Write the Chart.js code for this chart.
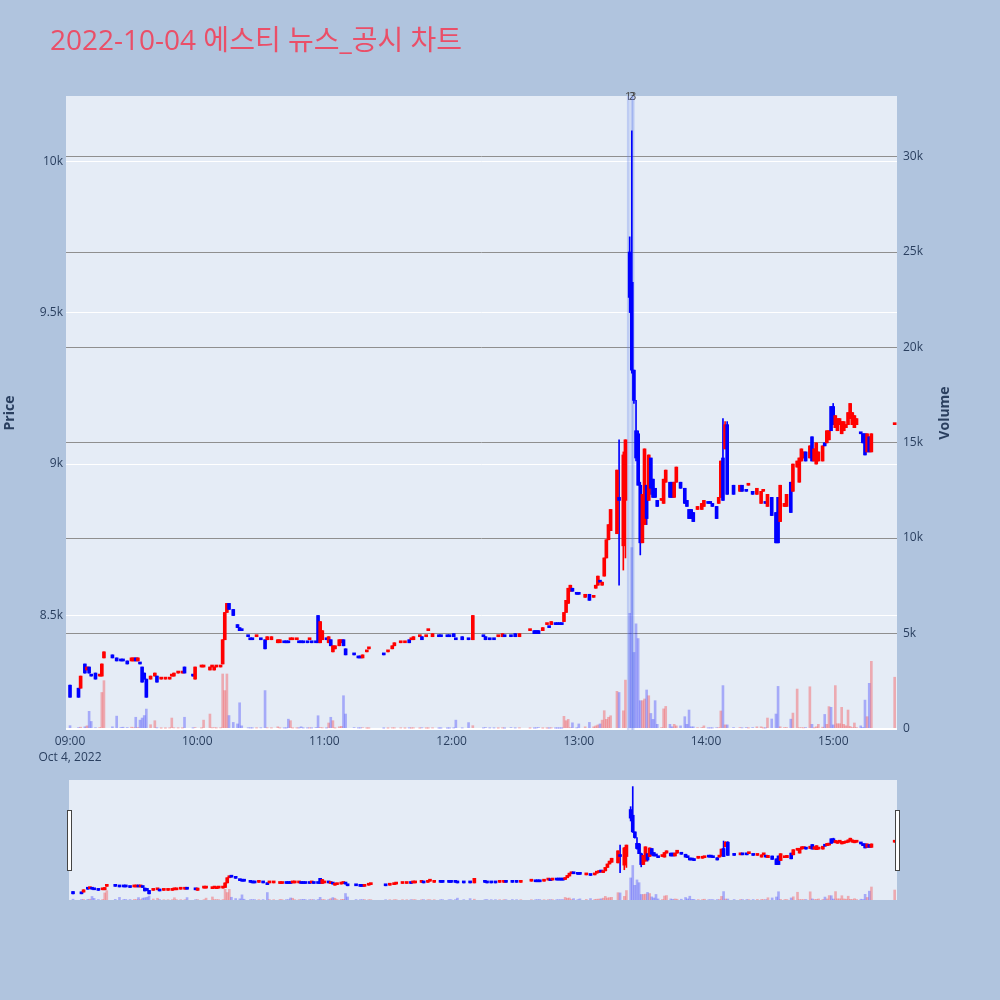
<!DOCTYPE html>
<html><head><meta charset="utf-8">
<script src="https://cdn.jsdelivr.net/npm/chart.js@4.4.0/dist/chart.umd.min.js"></script>
<style>
html,body{margin:0;padding:0;background:#B0C4DE;}
#wrap{position:relative;width:1000px;height:1000px;overflow:hidden;}
#main{position:absolute;left:0;top:0;width:1000px;height:1000px;}
#slider{position:absolute;left:0;top:770px;width:1000px;height:140px;}
</style></head><body>
<div id="wrap"><canvas id="main" width="1000" height="1000"></canvas><canvas id="slider" width="1000" height="140"></canvas></div>
<script>
// ---------- DATA ----------
const chartTitle = '2022-10-04 에스티 뉴스_공시 차트';
const dateLabel = 'Oct 4, 2022';
const xTickLabels = ['09:00','10:00','11:00','12:00','13:00','14:00','15:00'];
const priceTicks = [8500, 9000, 9500, 10000];
const volumeTicks = [0, 5000, 10000, 15000, 20000, 25000, 30000];
const newsTimes = ['13:23:20', '13:25:00', '13:25:40'];
const newsLabels = ['1', '2', '3'];

const times = [
'09:00','09:04','09:05','09:07','09:08','09:09','09:10','09:12','09:14','09:15','09:16','09:20','09:22','09:24','09:25','09:27','09:29','09:30','09:31','09:32','09:33','09:34','09:35','09:36','09:38','09:40','09:41','09:43','09:45','09:47','09:48','09:49','09:51','09:53','09:54','09:58','09:59',
'10:02','10:03','10:06','10:07','10:08','10:09','10:11','10:12','10:13','10:14','10:15','10:17','10:19','10:20','10:21','10:24','10:25','10:26','10:28','10:30','10:32','10:33','10:35','10:38','10:39','10:41','10:42','10:43','10:44','10:45','10:47','10:48','10:49','10:50','10:52','10:53','10:54','10:56','10:57','10:58','10:59',
'11:01','11:02','11:03','11:04','11:05','11:07','11:08','11:09','11:10','11:14','11:16','11:17','11:18','11:20','11:21','11:28','11:30','11:32','11:33','11:36','11:38','11:40','11:41','11:42','11:45','11:46','11:48','11:49','11:51','11:54','11:55','11:58','11:59',
'12:01','12:02','12:05','12:08','12:10','12:15','12:16','12:18','12:20','12:22','12:24','12:25','12:28','12:30','12:32','12:37','12:39','12:40','12:41','12:43','12:45','12:46','12:47','12:49','12:50','12:51','12:52','12:53','12:54','12:55','12:56','12:57','12:59',
'13:00','13:03','13:05','13:07','13:08','13:09','13:10','13:11','13:12','13:13','13:14','13:15','13:18','13:19','13:21','13:22','13:24','13:25','13:26','13:27','13:28','13:29','13:30','13:31','13:32','13:33','13:34','13:35','13:36','13:37','13:39','13:40','13:41','13:43','13:44','13:45','13:46','13:48','13:50','13:51','13:52','13:53','13:54','13:56','13:58','13:59',
'14:01','14:02','14:03','14:05','14:06','14:07','14:08','14:09','14:10','14:13','14:16','14:17','14:19','14:20','14:22','14:24','14:26','14:27','14:28','14:29','14:31','14:33','14:34','14:35','14:37','14:38','14:40','14:41','14:43','14:44','14:45','14:46','14:47','14:49','14:50','14:51','14:52','14:53','14:55','14:56','14:57','14:58','14:59',
'15:00','15:01','15:02','15:03','15:04','15:05','15:06','15:07','15:08','15:09','15:10','15:11','15:13','15:14','15:15','15:16','15:17','15:18','15:29'
];
const opens = [
8270,8260,8260,8340,8320,8330,8300,8310,8300,8300,8360,8370,8360,8350,8350,8350,8350,8350,8360,8350,8340,8330,8310,8290,8290,8300,8300,8290,8290,8290,8300,8300,8310,8310,8330,8300,8290,
8330,8330,8320,8330,8320,8330,8330,8340,8420,8510,8540,8520,8470,8460,8450,8430,8420,8420,8430,8420,8420,8420,8420,8410,8410,8410,8410,8410,8420,8420,8420,8410,8410,8410,8410,8420,8410,8410,8500,8410,8420,
8420,8410,8420,8380,8390,8400,8410,8420,8390,8370,8360,8360,8360,8380,8390,8370,8380,8390,8400,8410,8410,8420,8420,8420,8430,8430,8430,8450,8430,8430,8430,8430,8430,
8440,8420,8430,8420,8420,8430,8430,8420,8420,8430,8430,8430,8430,8440,8430,8450,8450,8450,8450,8450,8470,8460,8470,8470,8470,8470,8470,8480,8510,8540,8580,8590,8570,
8570,8560,8570,8560,8590,8600,8610,8600,8630,8690,8750,8780,8770,8890,8730,8880,9700,9600,9310,9110,9100,8930,8740,8800,8930,8880,9020,8950,8920,8880,8880,8870,8940,8940,8940,8890,8940,8940,8920,8880,8850,8850,8840,8850,8850,8860,
8870,8870,8870,8860,8870,8890,9020,9050,9130,8930,8910,8930,8910,8930,8910,8900,8870,8910,8870,8860,8890,8840,8890,8810,8860,8860,8940,8910,8990,8940,9010,9020,9040,9020,9090,9010,9000,9010,9010,9070,9070,9080,9190,
9190,9120,9110,9130,9100,9110,9120,9130,9150,9130,9120,9130,9100,9100,9100,9040,9090,9040,9130
];
const highs = [
8270,8260,8300,8340,8330,8330,8300,8310,8300,8340,8380,8370,8360,8350,8350,8350,8360,8360,8360,8360,8340,8330,8310,8290,8300,8310,8300,8290,8290,8290,8300,8310,8310,8310,8330,8300,8330,
8330,8330,8330,8330,8330,8330,8330,8420,8510,8540,8540,8520,8470,8460,8450,8430,8420,8420,8430,8420,8420,8430,8430,8420,8420,8410,8410,8410,8420,8420,8420,8410,8410,8410,8410,8420,8410,8410,8500,8480,8450,
8420,8430,8420,8400,8400,8420,8420,8420,8390,8370,8360,8360,8370,8380,8390,8370,8380,8400,8410,8410,8410,8420,8420,8430,8430,8430,8430,8450,8440,8430,8430,8430,8430,
8440,8420,8430,8420,8500,8430,8430,8420,8420,8430,8440,8430,8430,8440,8440,8450,8450,8450,8450,8460,8470,8460,8480,8470,8470,8470,8470,8510,8550,8590,8600,8590,8570,
8570,8570,8570,8560,8600,8630,8610,8610,8690,8750,8800,8850,8980,9080,9040,9080,9750,10100,9310,9210,9110,8940,8900,9050,8930,9030,9020,8950,8920,8880,8880,8950,8980,8940,8940,8940,8990,8940,8920,8880,8850,8850,8840,8860,8870,8880,
8870,8870,8870,8860,8890,9010,9150,9140,9140,8930,8930,8930,8910,8930,8910,8920,8910,8910,8870,8900,8890,8840,8890,8930,8870,8900,8940,9000,9010,9020,9050,9040,9040,9060,9090,9050,9070,9040,9060,9070,9110,9110,9190,
9200,9160,9150,9150,9140,9140,9130,9170,9200,9170,9160,9150,9100,9100,9100,9100,9090,9100,9130
];
const lows = [
8230,8230,8260,8310,8320,8310,8300,8290,8300,8300,8360,8360,8350,8350,8350,8340,8350,8350,8350,8350,8340,8280,8290,8230,8290,8300,8280,8290,8290,8290,8300,8300,8310,8310,8310,8300,8290,
8330,8330,8320,8330,8320,8330,8330,8340,8420,8510,8520,8500,8460,8450,8450,8430,8420,8420,8430,8420,8390,8420,8420,8410,8410,8410,8410,8410,8420,8420,8420,8410,8410,8410,8410,8420,8410,8410,8410,8410,8420,
8420,8410,8400,8380,8390,8400,8410,8400,8370,8370,8360,8360,8360,8380,8390,8370,8380,8390,8400,8410,8410,8410,8420,8420,8430,8420,8430,8450,8430,8430,8430,8430,8430,
8430,8420,8420,8420,8420,8430,8420,8420,8420,8430,8430,8430,8430,8430,8430,8450,8440,8440,8440,8450,8470,8460,8470,8470,8470,8470,8470,8480,8510,8540,8580,8580,8570,
8570,8560,8550,8560,8590,8600,8610,8600,8630,8690,8750,8780,8770,8600,8650,8690,9500,9300,9200,9010,8930,8700,8740,8800,8800,8880,8900,8890,8890,8860,8880,8870,8940,8890,8890,8890,8940,8920,8870,8860,8820,8820,8810,8850,8850,8860,
8870,8870,8860,8820,8870,8890,8880,9050,8900,8900,8910,8910,8910,8930,8900,8900,8870,8910,8870,8860,8830,8740,8740,8810,8860,8860,8840,8910,8990,8940,9010,9020,9010,9020,9010,9010,9000,9010,9010,9060,9070,9080,9110,
9130,9120,9110,9130,9100,9110,9120,9130,9150,9130,9120,9130,9100,9070,9030,9040,9040,9040,9130
];
const closes = [
8230,8230,8300,8310,8330,8310,8300,8290,8300,8340,8380,8360,8350,8350,8350,8340,8360,8360,8350,8360,8340,8280,8290,8230,8300,8310,8280,8290,8290,8290,8300,8310,8310,8310,8310,8300,8330,
8330,8330,8330,8330,8330,8330,8330,8420,8510,8540,8520,8500,8460,8450,8450,8430,8420,8420,8430,8420,8390,8430,8430,8420,8420,8410,8410,8410,8420,8420,8420,8410,8410,8410,8410,8420,8410,8410,8410,8480,8450,
8420,8430,8400,8400,8400,8420,8420,8400,8370,8370,8360,8360,8370,8380,8390,8370,8380,8400,8410,8410,8410,8410,8420,8430,8430,8420,8430,8450,8440,8430,8430,8430,8430,
8430,8420,8420,8420,8500,8430,8420,8420,8420,8430,8440,8430,8430,8430,8440,8450,8440,8440,8440,8460,8470,8460,8480,8470,8470,8470,8470,8510,8550,8590,8600,8580,8570,
8570,8570,8550,8560,8600,8630,8610,8610,8690,8750,8800,8850,8980,8880,9030,9080,9550,9310,9210,9020,8930,8740,8900,9050,8820,9030,8920,8890,8890,8860,8880,8950,8980,8890,8890,8940,8990,8920,8870,8860,8820,8820,8810,8860,8870,8880,
8870,8870,8860,8820,8890,9010,8880,9130,8900,8900,8930,8910,8910,8930,8900,8920,8910,8910,8870,8900,8830,8740,8740,8930,8870,8900,8840,9000,9010,9020,9050,9040,9010,9060,9010,9050,9070,9040,9060,9060,9110,9110,9110,
9130,9160,9150,9150,9140,9140,9130,9170,9200,9170,9160,9150,9100,9070,9030,9100,9040,9100,9130
];
const volumes = [
160,60,80,100,150,910,380,50,60,1900,2520,100,660,60,80,60,80,50,600,60,450,560,690,1030,210,420,40,20,20,30,560,40,30,30,600,30,60,
30,450,770,40,50,30,40,2870,2000,2870,690,330,250,1360,150,40,30,30,30,40,2000,40,30,100,30,30,30,500,420,30,30,30,100,30,30,30,30,60,680,60,40,
30,300,600,420,30,100,120,1730,770,60,30,30,50,20,20,20,20,30,30,30,20,30,20,30,20,40,20,20,30,20,20,20,20,
30,450,30,320,160,30,60,30,30,20,30,20,60,30,30,20,20,30,60,20,20,20,30,20,20,20,20,650,420,490,50,310,40,
250,100,330,100,150,200,250,450,945,490,600,680,1960,1900,940,2550,6050,9500,4000,5500,4730,1470,1470,1560,2030,1730,800,490,1470,230,60,1040,1170,230,100,230,150,150,630,230,980,100,100,50,60,150,
30,30,30,50,50,930,2260,200,200,60,60,40,60,30,60,100,100,30,30,560,510,770,2220,100,60,60,500,820,2080,50,50,40,60,2200,230,40,100,230,80,750,230,1160,1120,
200,2260,260,260,1120,230,150,980,120,60,300,60,150,60,1500,630,2380,3535,2700
];

// ---------- STYLE ----------
const FONT = "'Open Sans', 'Noto Sans CJK KR', sans-serif";
const TICK = '#2a3f5f';
const UP = '#FF0000', DN = '#0000FF';
const VOL_UP = 'rgba(255,0,0,0.28)', VOL_DN = 'rgba(0,0,255,0.28)';
const X_MIN = -1.9, X_MAX = 390.1;
const P_MIN = 8122, P_MAX = 10215;
const V_MIN = -68, V_MAX = 33183;
Chart.defaults.font.family = FONT;

function toMin(t){ const p = t.split(':').map(Number); return (p[0]-9)*60 + p[1] + (p[2]||0)/60; }
function fmtK(v){ return v === 0 ? '0' : (v/1000) + 'k'; }

[opens, highs, lows, closes, volumes].forEach((a, k) => {
  if (a.length !== times.length) console.error('length mismatch', k, a.length, times.length);
});

const xs = times.map(toMin);
const up = [];
{
  let prevC = null, prevUp = true;
  for (let i = 0; i < xs.length; i++) {
    const o = opens[i], c = closes[i];
    let u;
    if (c > o) u = true; else if (c < o) u = false;
    else if (prevC === null) u = prevUp;
    else if (c > prevC) u = true; else if (c < prevC) u = false; else u = prevUp;
    up.push(u); prevUp = u; prevC = c;
  }
}
const xTickVals = xTickLabels.map(toMin);

function priceDatasets(bodyW){
  return [
    {label:'Volume', yAxisID:'y2', data: xs.map((x,i)=>({x, y: volumes[i]})),
     backgroundColor: up.map(u => u ? VOL_UP : VOL_DN), barThickness: 2, grouped:false, order:5},
    {label:'Wick', yAxisID:'y', data: xs.map((x,i)=>({x, y:[lows[i], highs[i]]})),
     backgroundColor: up.map(u => u ? UP : DN), barThickness: 1, grouped:false, order:3},
    {label:'Price', yAxisID:'y', data: xs.map((x,i)=>({x, y:[opens[i], closes[i]]})),
     backgroundColor: up.map(u => u ? UP : DN), barThickness: bodyW, minBarLength: 2, grouped:false, order:2}
  ];
}

const plotBg = { id:'plotBg', beforeDraw(chart){
  const {ctx, chartArea:a} = chart; ctx.save(); ctx.fillStyle = '#E5ECF6';
  ctx.fillRect(a.left, a.top, a.right - a.left, a.bottom - a.top); ctx.restore(); } };

// shift the Chart.js title block to its place in the paper margin
const titleShift = { id:'titleShift', afterLayout(chart, args, opts){
  if (chart.titleBlock) chart.titleBlock.left = opts.x; } };

const volTitle = { id:'volTitle', afterDraw(chart, args, opts){
  const s = chart.scales.y2, a = chart.chartArea, ctx = chart.ctx;
  ctx.save(); ctx.translate(s.right - 55, (a.top + a.bottom)/2); ctx.rotate(-Math.PI/2);
  ctx.font = 'bold 14px ' + FONT; ctx.fillStyle = TICK; ctx.textAlign = 'center'; ctx.textBaseline = 'middle';
  ctx.fillText(opts.text, 0, 0); ctx.restore(); } };

const mainDs = priceDatasets(3);
mainDs.splice(1, 0, {label:'News', yAxisID:'yNews', data: newsTimes.map(t => ({x: toMin(t), y: 1})),
  backgroundColor:'rgba(100,130,235,0.30)', borderWidth:0,
  barThickness:2, grouped:false, order:4});

new Chart(document.getElementById('main'), {
  type:'bar',
  data:{ datasets: mainDs },
  options:{
    responsive:false, animation:false,
    layout:{ padding:{ left:0, right:0, top:0, bottom:230 } },
    scales:{
      x:{ type:'linear', position:'bottom', min:X_MIN, max:X_MAX, offset:false,
          grid:{display:false, drawTicks:false}, border:{display:false},
          afterBuildTicks: s => { s.ticks = xTickVals.map(v => ({value:v})); },
          afterFit: s => { s.height = 40; },
          ticks:{ autoSkip:false, maxRotation:0, minRotation:0, padding:3, color:TICK,
                  font:{family:FONT, size:12, lineHeight:1.35},
                  callback:(v,i) => i === 0 ? [xTickLabels[0], dateLabel] : xTickLabels[i] } },
      xNews:{ type:'linear', position:{ yNews: 1 }, min:X_MIN, max:X_MAX, offset:false,
          grid:{display:false, drawTicks:false}, border:{display:false},
          afterBuildTicks: s => { s.ticks = newsTimes.map(t => ({value: toMin(t)})); },
          ticks:{ autoSkip:false, maxRotation:0, minRotation:0, padding:-6, color:'#444',
                  font:{family:FONT, size:11}, callback:(v,i) => newsLabels[i] } },
      y:{ type:'linear', position:'left', min:P_MIN, max:P_MAX,
          grid:{color:'#ffffff', lineWidth:1, drawTicks:false}, border:{display:false},
          afterBuildTicks: s => { s.ticks = priceTicks.map(v => ({value:v})); },
          afterFit: s => { s.width = 66; },
          ticks:{ padding:3, color:TICK, font:{family:FONT, size:12}, callback: v => fmtK(v) },
          title:{ display:true, text:'Price', color:TICK, font:{family:FONT, size:14, weight:'bold'},
                  padding:{top:1.6, bottom:0} } },
      y2:{ type:'linear', position:'right', min:V_MIN, max:V_MAX,
          grid:{ color: c => (c.tick && c.tick.value === 0) ? '#ffffff' : '#8f8f8f',
                 lineWidth: c => (c.tick && c.tick.value === 0) ? 2 : 1, drawTicks:false },
          border:{display:false},
          afterBuildTicks: s => { s.ticks = volumeTicks.map(v => ({value:v})); },
          afterFit: s => { s.width = 103; },
          ticks:{ padding:6, color:TICK, font:{family:FONT, size:12}, callback: v => fmtK(v) } },
      yNews:{ type:'linear', display:false, min:0, max:1 }
    },
    plugins:{
      legend:{display:false}, tooltip:{enabled:false},
      title:{ display:true, text:chartTitle, align:'start', color:'#EA4F68',
              font:{family:FONT, size:28, weight:'normal', lineHeight:1.2},
              padding:{top:25, bottom:37.4} },
      titleShift:{ x:50 },
      volTitle:{ text:'Volume' }
    }
  },
  plugins:[plotBg, titleShift, volTitle]
});

const handles = { id:'handles', afterDraw(chart){
  const {ctx, chartArea:a} = chart; const mid = (a.top + a.bottom)/2;
  ctx.save(); ctx.fillStyle = '#ffffff'; ctx.strokeStyle = '#444444'; ctx.lineWidth = 1;
  [a.left, a.right].forEach(e => { ctx.fillRect(e - 2, mid - 30, 4, 60); ctx.strokeRect(e - 2 + 0.5, mid - 30 + 0.5, 4, 60); });
  ctx.restore(); } };

new Chart(document.getElementById('slider'), {
  type:'bar',
  data:{ datasets: priceDatasets(3) },
  options:{
    responsive:false, animation:false,
    layout:{ padding:{ left:69, right:103, top:10, bottom:10 } },
    scales:{
      x:{ type:'linear', display:false, min:X_MIN, max:X_MAX, offset:false },
      y:{ type:'linear', display:false, min:P_MIN, max:P_MAX },
      y2:{ type:'linear', display:false, min:V_MIN, max:V_MAX }
    },
    plugins:{ legend:{display:false}, tooltip:{enabled:false} }
  },
  plugins:[plotBg, handles]
});
</script>
</body></html>
